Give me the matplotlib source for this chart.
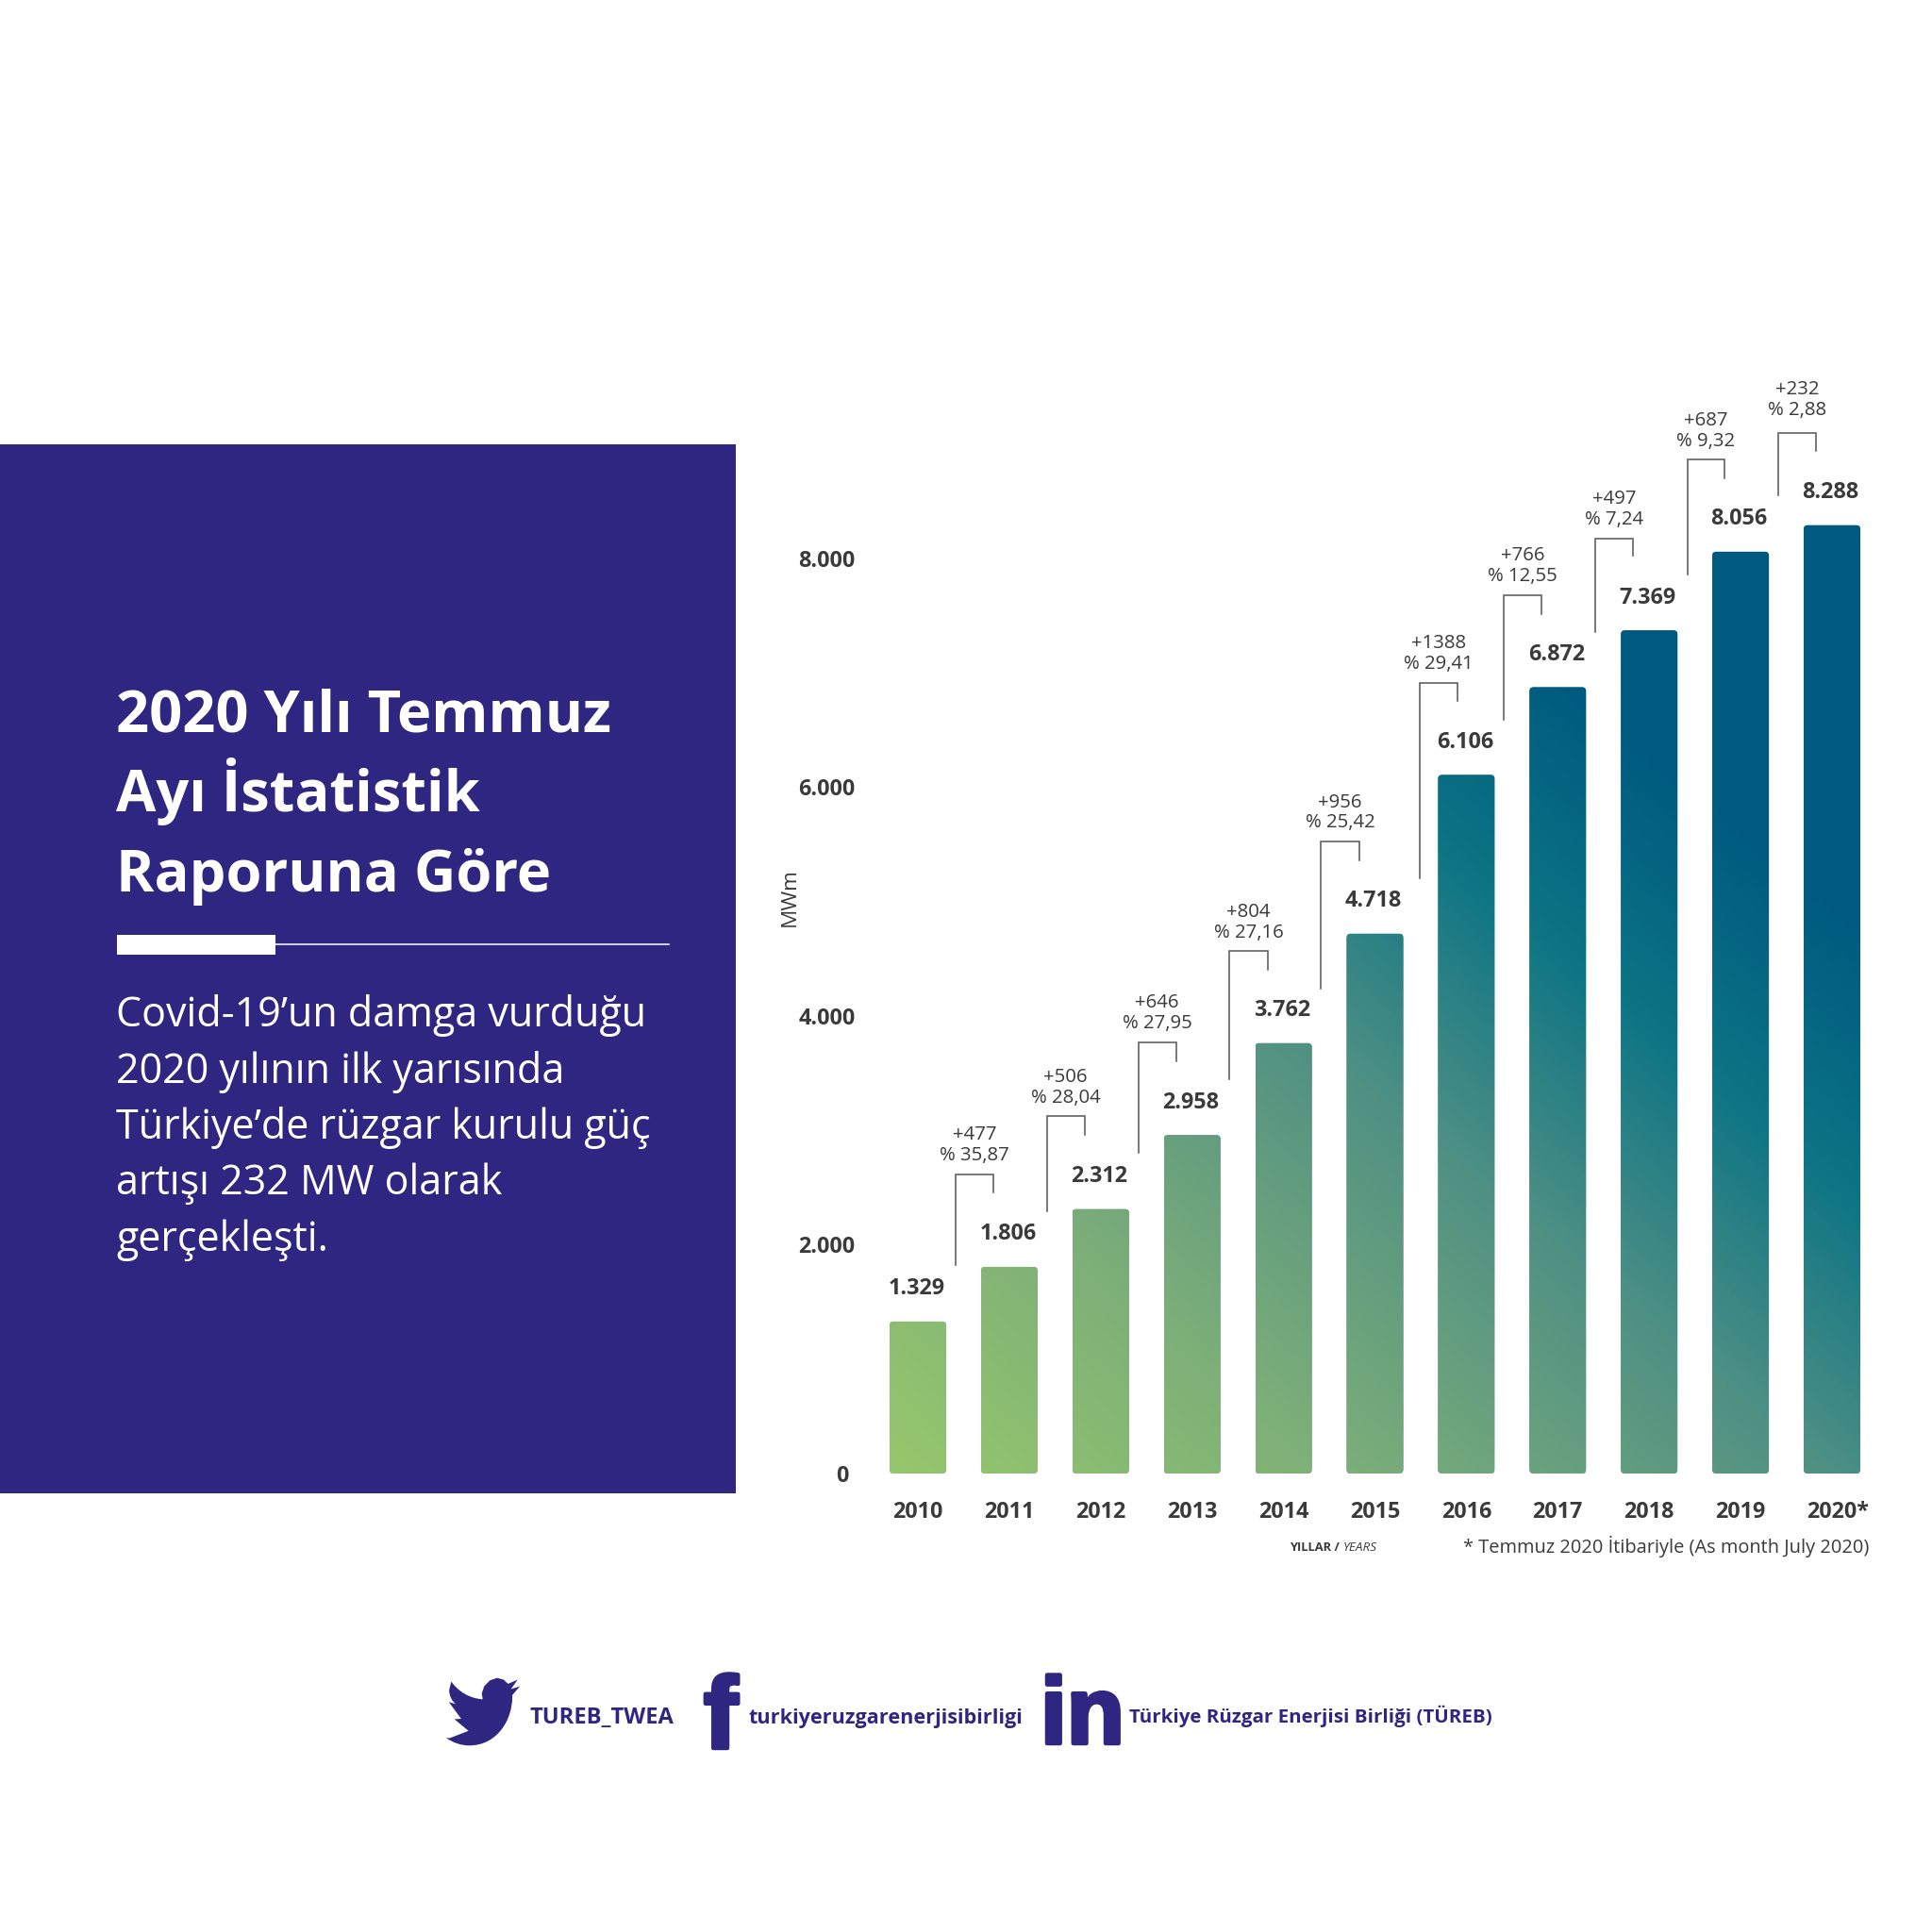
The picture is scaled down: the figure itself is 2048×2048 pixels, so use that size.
import numpy as np
import matplotlib
matplotlib.use("Agg")
import matplotlib.pyplot as plt
import matplotlib.patheffects as pe
from matplotlib.patches import FancyBboxPatch, PathPatch, Rectangle
from matplotlib.path import Path
from matplotlib.colors import LinearSegmentedColormap
from matplotlib.transforms import ScaledTranslation, Affine2D

years = ["2010","2011","2012","2013","2014","2015","2016","2017","2018","2019","2020*"]
capacity = [1329,1806,2312,2958,3762,4718,6106,6872,7369,8056,8288]
yticks = [0,2000,4000,6000,8000]
ytick_labels = ["0","2.000","4.000","6.000","8.000"]
increase = ["+477","+506","+646","+804","+956","+1388","+766","+497","+687","+232"]
percent = ["% 35,87","% 28,04","% 27,95","% 27,16","% 25,42","% 29,41","% 12,55","% 7,24","% 9,32","% 2,88"]
bracket_base = [1819,2293,2799,3445,4241,5199,6588,7352,7858,8547]
bracket_top = [2616,3122,3767,4564,5522,6911,7675,8170,8859,9096]
bracket_end = [2454,2960,3606,4403,5361,6749,7513,8019,8698,8934]
bracket_left = [-.59,-.59,-.59,-.59,-.59,-.51,-.59,-.59,-.58,-.59]
bracket_right = [-.175,-.175,-.175,-.175,-.175,-.094,-.175,-.175,-.175,-.175]
label_lift = [0,0,0,0,0,0,0,0,0,2.8]

title_lines = ["2020 Yılı Temmuz","Ayı İstatistik","Raporuna Göre"]
body_lines = ["Covid-19’un damga vurduğu","2020 yılının ilk yarısında","Türkiye’de rüzgar kurulu güç","artışı 232 MW olarak","gerçekleşti."]

PURPLE = "#2E2680"
DARK = "#3A3A3A"
plt.rcParams["font.family"] = ["Open Sans","DejaVu Sans"]

W = 2048
fig = plt.figure(figsize=(20.48,20.48),dpi=100,facecolor="white")
pt = 72/100  # points per pixel

# overlay in pixel coordinates
ov = fig.add_axes([0,0,1,1])
ov.set_xlim(0,W); ov.set_ylim(W,0); ov.axis("off")
ov.add_patch(Rectangle((0,471),780,1112,fc=PURPLE,ec="none"))
ov.add_patch(Rectangle((124,991),168,21,fc="white",ec="none"))
ov.plot([292,709],[1001,1001],color="white",lw=1.1)
for line,y in zip(title_lines,[776,860,945]):
    ov.text(123,y,line,color="white",fontsize=44.2,fontweight="bold",va="baseline",ha="left")
for line,y in zip(body_lines,[1088,1148,1207,1266,1326]):
    ov.text(123,y,line,color="white",fontsize=31,va="baseline",ha="left")

# chart
yscale = 0.1213; xstep = 96.9; x0 = 973; base = 1562
xl = (-0.6,10.7); yl = (0,9800)
ax = fig.add_axes([(x0+xl[0]*xstep)/W,(W-base)/W,(xl[1]-xl[0])*xstep/W,yl[1]*yscale/W])
ax.patch.set_alpha(0)
for s in ax.spines.values(): s.set_visible(False)
x = np.arange(len(years))
width = .62
bars = ax.bar(x,capacity,width=width,color="#5C9B85",zorder=2)
ax.set_xlim(*xl); ax.set_ylim(*yl)
ax.set_xticks(x,years,fontsize=16.8,fontweight="bold",color=DARK)
ax.set_yticks(yticks,ytick_labels,fontsize=16.8,fontweight="bold",color=DARK)
ax.tick_params(length=0)
ax.tick_params(axis="x",pad=21.2)
ax.tick_params(axis="y",pad=6)
lab0 = ax.yaxis.get_ticklabels()[0]
lab0.set_transform(lab0.get_transform()+ScaledTranslation(-7.5*pt/72,0,fig.dpi_scale_trans))
lab_last = ax.xaxis.get_ticklabels()[-1]
lab_last.set_transform(lab_last.get_transform()+ScaledTranslation(6.5*pt/72,0,fig.dpi_scale_trans))

cmap = LinearSegmentedColormap.from_list("g",[(0,"#95C66D"),(300/1120,"#7CAE79"),(620/1120,"#4F9084"),(870/1120,"#0C7484"),(1090/1120,"#005A80"),(1,"#005A80")])
fig.canvas.draw()
for rect,xi,v in zip(bars,x,capacity):
    xs = np.linspace(xi-width/2,xi+width/2,12)
    ys = np.linspace(v,0,300)
    gx,gy = np.meshgrid(xs,ys)
    pts = ax.transData.transform(np.c_[gx.ravel(),gy.ravel()])
    dx = pts[:,0]/1.306; dy = (W-pts[:,1])/1.306
    t = (.84*(dx-745)+(1196-dy))/1120
    im = ax.imshow(t.reshape(gx.shape),cmap=cmap,vmin=0,vmax=1,extent=(xi-width/2,xi+width/2,0,v),aspect="auto",zorder=3)
    clip = FancyBboxPatch((xi-width/2,0),width,v,boxstyle="round,pad=0,rounding_size=0.045",
                          mutation_aspect=xstep/yscale,transform=ax.transData,fc="none",ec="none")
    ax.add_patch(clip)
    im.set_clip_path(clip)
    rect.set_clip_path(clip)
    ax.annotate(f"{v:,}".replace(",","."),(xi,v),xytext=(-1,24.8),textcoords="offset points",ha="center",va="center",
                fontsize=16.8,fontweight="bold",color=DARK)
ax.set_xlim(*xl); ax.set_ylim(*yl)

for i in range(len(increase)):
    xi = i+1
    l,r = xi+bracket_left[i],xi+bracket_right[i]
    ax.plot([l,l,r,r],[bracket_base[i],bracket_top[i],bracket_top[i],bracket_end[i]],color="#555555",lw=1.1,
            solid_joinstyle="miter",clip_on=False,zorder=4)
    ax.annotate(increase[i],((l+r)/2,bracket_top[i]),xytext=(0,30+label_lift[i]),textcoords="offset points",ha="center",va="center",fontsize=14.7,color=DARK)
    ax.annotate(percent[i],((l+r)/2,bracket_top[i]),xytext=(0,14.2+label_lift[i]),textcoords="offset points",ha="center",va="center",fontsize=14.7,color=DARK)

ov.text(837,951,"MWm",rotation=90,fontsize=16.2,color=DARK,ha="center",va="center")
ov.text(1367,1640,"YILLAR /",fontsize=9.3,fontweight="bold",color=DARK,ha="left",va="center")
ov.text(1424,1640,"YEARS",fontsize=9.7,fontstyle="italic",color=DARK,ha="left",va="center")
ov.text(1981,1639,"* Temmuz 2020 İtibariyle (As month July 2020)",fontsize=14.45,color=DARK,ha="right",va="center")

# footer
M,L,C = Path.MOVETO,Path.LINETO,Path.CURVE4
verts = [(23.95,4.57),(21.13,5.35),(23.29,2.62),(20.16,3.81),
 (18.7,2.6),(16.6,2.1),(14.3,2.8),(12.4,4.5),(11.6,6.6),(11.89,8.3),
 (7.69,8.095),(4.067,6.13),(1.64,3.162),(.97,5.64),(.97,7.35),(1.84,8.85),(3.16,9.73),
 (.93,9.12),(.93,9.18),(4.88,14.0),(2.67,14.09),(7.27,17.5),(1.17,19.6),(0,19.54),
 (2.2,20.95),(4.8,21.75),(7.56,21.75),(16.6,21.75),(21.55,14.25),(21.55,7.76),(21.54,7.13),(24,4.59),(23.95,4.57)]
codes = [M,L,L,L,L,L,L,L,L,L,C,C,C,L,C,C,C,L,L,L,L,L,L,L,C,C,C,C,C,C,L,L,L]
bird = Path(verts,codes)
ov.add_patch(PathPatch(bird,fc=PURPLE,ec="none",transform=Affine2D().scale(78/24,72/19.75).translate(473,1771)+ov.transData))
thick = [pe.withStroke(linewidth=3.2,foreground=PURPLE)]
ov.text(561,1827,"TUREB_TWEA",color=PURPLE,fontsize=17.1,fontweight="bold",va="baseline")
ov.text(746,1853,"f",color=PURPLE,fontsize=78,fontweight="bold",family=["Liberation Sans"],va="baseline",path_effects=thick)
ov.text(793,1827,"turkiyeruzgarenerjisibirligi",color=PURPLE,fontsize=15.55,fontweight="bold",va="baseline")
ov.text(1103,1848,"in",color=PURPLE,fontsize=72,fontweight="bold",family=["Liberation Sans"],va="baseline",path_effects=thick)
ov.text(1197,1826,"Türkiye Rüzgar Enerjisi Birliği (TÜREB)",color=PURPLE,fontsize=14.75,fontweight="bold",va="baseline")

fig.savefig("out.png",dpi=100,facecolor="white")
